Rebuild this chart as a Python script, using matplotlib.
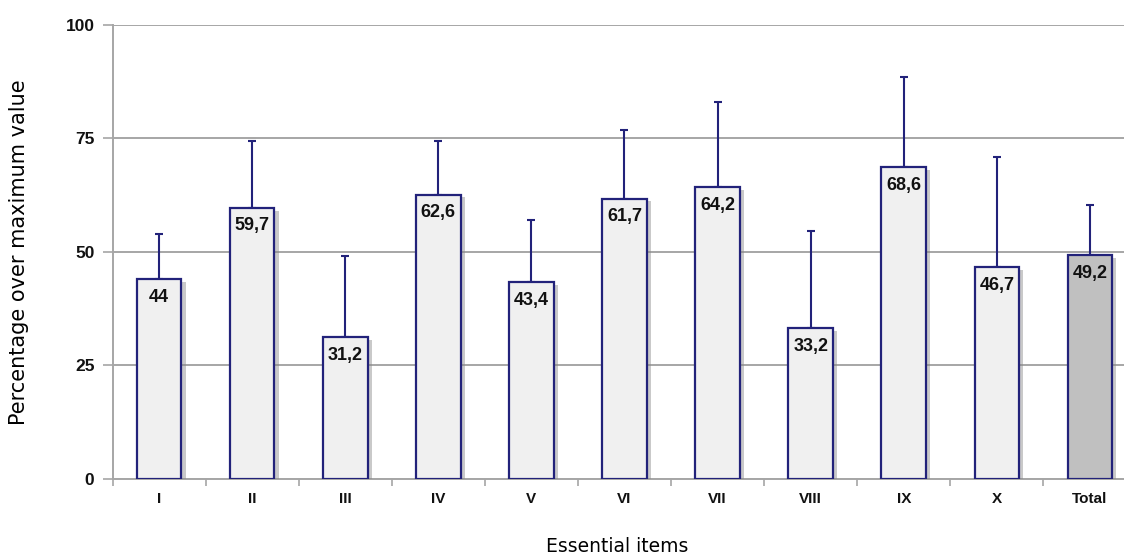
import matplotlib.pyplot as plt
import matplotlib.patheffects as pe
import numpy as np

# Data
items = ['I', 'II', 'III', 'IV', 'V', 'VI', 'VII', 'VIII', 'IX', 'X', 'Total']
means = [44, 59.7, 31.2, 62.6, 43.4, 61.7, 64.2, 33.2, 68.6, 46.7, 49.2]
sd = [10.0, 14.7, 17.8, 11.7, 13.6, 15.2, 18.7, 21.4, 19.9, 24.2, 11.1]
labels = ['44', '59,7', '31,2', '62,6', '43,4', '61,7', '64,2', '33,2', '68,6', '46,7', '49,2']

navy = '#22227a'
grid_gray = '#a6a6a6'

fig = plt.figure(figsize=(11.24, 5.57), dpi=100)
ax = fig.add_axes([0.1001, 0.140, 0.8999, 0.8157])

x = np.arange(len(items))
colors = ['#f0f0f0'] * (len(items) - 1) + ['#c0c0c0']

ax.yaxis.grid(True, color=grid_gray, linewidth=1.4, zorder=0)
ax.set_axisbelow(True)

bars = ax.bar(x, means, width=0.48, color=colors, edgecolor=navy, linewidth=1.6, zorder=3)
for b in bars:
    b.set_path_effects([pe.SimplePatchShadow(offset=(3, -2), shadow_rgbFace='#888888', alpha=0.45),
                        pe.Normal()])

ax.errorbar(x, means, yerr=[np.zeros(len(sd)), sd], fmt='none', ecolor=navy,
            elinewidth=1.5, capsize=3, capthick=1.5, zorder=2)

for xi, m, lab in zip(x, means, labels):
    ax.text(xi, m - 4, lab, ha='center', va='center', fontsize=13,
            fontweight='bold', family='Liberation Sans', color='#111111', zorder=4)

ax.set_ylim(0, 100)
ax.set_xlim(-0.5, 10.366)
ax.set_yticks([0, 25, 50, 75, 100])
ax.set_xticks(x)
ax.set_xticklabels(items)
ax.set_xticks(np.arange(-0.5, 10.5, 1), minor=True)
ax.tick_params(axis='x', which='major', length=0, pad=9)
ax.tick_params(axis='x', which='minor', length=5, color=grid_gray, width=1.2)
ax.tick_params(axis='y', length=7, color=grid_gray, width=1.2, pad=6)
for t in ax.get_xticklabels() + ax.get_yticklabels():
    t.set_fontweight('bold')
    t.set_family('Liberation Sans')
    t.set_color('#111111')
for t in ax.get_xticklabels():
    t.set_fontsize(11)
for t in ax.get_yticklabels():
    t.set_fontsize(12.5)

for s in ['top', 'right']:
    ax.spines[s].set_visible(False)
ax.spines['left'].set_color(grid_gray)
ax.spines['bottom'].set_color(grid_gray)
ax.spines['left'].set_linewidth(1.4)
ax.spines['bottom'].set_linewidth(1.4)

fig.text(0.017, 0.547, 'Percentage over maximum value', rotation=90, ha='center', va='center',
         fontsize=15, family='DejaVu Sans')
fig.text(0.549, 0.018, 'Essential items', ha='center', va='center', fontsize=13.5,
         family='DejaVu Sans')

fig.savefig('out.png', dpi=100)
